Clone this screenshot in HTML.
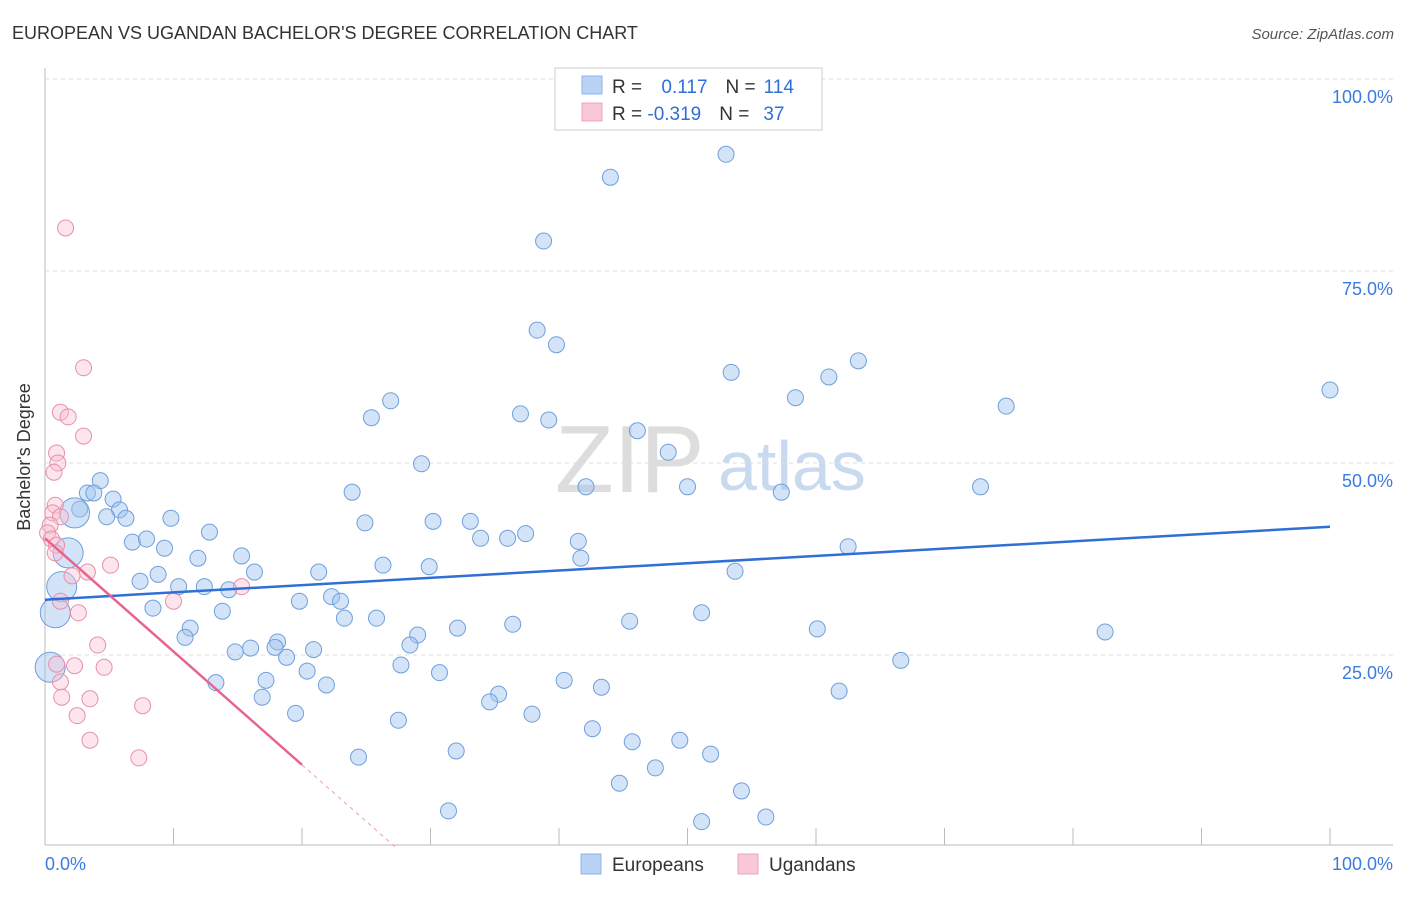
<!DOCTYPE html>
<html><head><meta charset="utf-8"><style>
body{margin:0;background:#fff;font-family:"Liberation Sans",sans-serif}
svg text{font-family:"Liberation Sans",sans-serif}
</style></head><body>
<svg id="c" width="1406" height="892">
<text x="12" y="39" font-size="18" fill="#333">EUROPEAN VS UGANDAN BACHELOR'S DEGREE CORRELATION CHART</text>
<text x="1394" y="39" font-size="15" fill="#555" font-style="italic" text-anchor="end">Source: ZipAtlas.com</text>
<text x="30" y="457" font-size="18" fill="#333" transform="rotate(-90 30 457)" text-anchor="middle">Bachelor's Degree</text>
<text x="555" y="492" font-size="96" fill="#ddd" font-family="Liberation Serif">ZIP</text>
<text x="718" y="490" font-size="70" fill="#c9daf0">atlas</text>
<g id="grid"></g><g id="pts"></g><g id="lines"></g>
<g>
<rect x="555" y="68" width="267" height="62" fill="#fff" stroke="#ccc"/>
<rect x="582" y="76" width="20" height="18" fill="#b9d3f4" stroke="#8fb4e8"/>
<rect x="582" y="103" width="20" height="18" fill="#f9c8d6" stroke="#eea6bd"/>
<text x="612" y="93" font-size="19" fill="#333">R = <tspan fill="#2f6fd6" dx="14">0.117</tspan><tspan dx="18" fill="#333">N =</tspan><tspan dx="8" fill="#2f6fd6">114</tspan></text>
<text x="612" y="120" font-size="19" fill="#333">R = <tspan fill="#2f6fd6">-0.319</tspan><tspan dx="18" fill="#333">N =</tspan><tspan dx="14" fill="#2f6fd6">37</tspan></text>
</g>
<g>
<rect x="581" y="854" width="20" height="20" fill="#b9d3f4" stroke="#8fb4e8"/>
<text x="612" y="871" font-size="19" fill="#333">Europeans</text>
<rect x="738" y="854" width="20" height="20" fill="#f9c8d6" stroke="#eea6bd"/>
<text x="769" y="871" font-size="19" fill="#333">Ugandans</text>
</g>
</svg>
<script>
const yTicks=[25,50,75,100];
const blueX=[53.0,44.0,38.8,38.3,39.8,63.3,53.4,61.0,100,58.4,26.9,74.8,37.0,25.4,39.2,46.1,48.5,29.3,42.1,50.0,72.8,57.3,23.9,4.3,3.3,3.8,5.3,2.7,5.8,2.3,4.8,6.3,9.8,24.9,30.2,33.1,12.8,37.4,33.9,36.0,6.8,7.9,41.5,62.5,9.3,1.8,15.3,11.9,41.7,26.3,29.9,53.7,16.3,21.3,8.8,7.4,10.4,12.4,14.3,1.3,22.3,19.8,23.0,8.4,13.8,51.1,0.8,23.3,25.8,45.5,36.4,32.1,11.3,60.1,82.5,29.0,10.9,18.1,28.4,16.0,17.9,20.9,14.8,18.8,66.6,27.7,20.4,30.7,0.4,40.4,17.2,13.3,21.9,43.3,61.8,35.3,34.6,16.9,37.9,19.5,27.5,42.6,49.4,45.7,32.0,51.8,24.4,47.5,44.7,54.2,31.4,56.1,51.1];
const blueY=[90.2,87.2,78.9,67.3,65.4,63.3,61.8,61.2,59.5,58.5,58.1,57.4,56.4,55.9,55.6,54.2,51.4,49.9,46.9,46.9,46.9,46.2,46.2,47.7,46.1,46.1,45.3,44.0,43.9,43.5,43.0,42.8,42.8,42.2,42.4,42.4,41.0,40.8,40.2,40.2,39.7,40.1,39.8,39.1,38.9,38.3,37.9,37.6,37.6,36.7,36.5,35.9,35.8,35.8,35.5,34.6,33.9,33.9,33.5,33.9,32.6,32.0,32.0,31.1,30.7,30.5,30.5,29.8,29.8,29.4,29.0,28.5,28.5,28.4,28.0,27.6,27.3,26.7,26.3,25.9,26.0,25.7,25.4,24.7,24.3,23.7,22.9,22.7,23.4,21.7,21.7,21.4,21.1,20.8,20.3,19.9,18.9,19.5,17.3,17.4,16.5,15.4,13.9,13.7,12.5,12.1,11.7,10.3,8.3,7.3,4.7,3.9,3.3];
const blueBig=[29,45,59,66,88];
const pinkX=[1.6,3.0,1.2,1.8,3.0,0.9,1.0,0.7,0.8,0.6,1.2,0.4,0.2,0.5,0.9,0.8,5.1,3.3,2.1,15.3,1.2,10.0,2.6,4.1,0.9,2.3,4.6,1.2,1.3,3.5,7.6,2.5,3.5,7.3];
const pinkY=[80.6,62.4,56.6,56.0,53.5,51.3,50.0,48.8,44.5,43.5,43.0,41.9,40.9,40.1,39.3,38.3,36.7,35.8,35.3,33.9,32.0,32.0,30.5,26.3,23.8,23.6,23.4,21.5,19.5,19.3,18.4,17.1,13.9,11.6];
const blueLine=[32.2,41.7];
const pinkLine=[40.2,10.7];
const NS='http://www.w3.org/2000/svg';
const X=v=>45+v*12.85, Y=v=>847-v*7.68;
function mk(tag,at,parent){const e=document.createElementNS(NS,tag);for(const k in at)e.setAttribute(k,at[k]);document.getElementById(parent).appendChild(e);return e;}
let ax=mk('line',{x1:45,y1:845,x2:1393,y2:845,stroke:'#bbb'},'grid');


let ay=mk('line',{x1:45,y1:68,x2:45,y2:845,stroke:'#bbb'},'grid');


for(let i=1;i<=10;i++){const t=mk('line',{x1:X(i*10),y1:828,x2:X(i*10),y2:845,stroke:'#bbb'},'grid');

}
yTicks.forEach(v=>{const g=mk('line',{x1:45,y1:Y(v),x2:1393,y2:Y(v),stroke:'#ddd','stroke-dasharray':'4 4'},'grid');


const t=mk('text',{x:1393,y:Y(v)+24,'font-size':18,fill:'#3a7be0','text-anchor':'end'},'grid');t.textContent=v.toFixed(1)+'%';

});
const x0=mk('text',{x:45,y:870,'font-size':18,fill:'#3a7be0'},'grid');x0.textContent='0.0%';


const x1=mk('text',{x:1393,y:870,'font-size':18,fill:'#3a7be0','text-anchor':'end'},'grid');x1.textContent='100.0%';


blueX.forEach((v,i)=>{const c=mk('circle',{cx:X(v),cy:Y(blueY[i]),r:blueBig.includes(i)?15:8,fill:'rgba(160,195,240,0.45)',stroke:'#6f9fdc','stroke-width':1},'pts');

});
pinkX.forEach((v,i)=>{const c=mk('circle',{cx:X(v),cy:Y(pinkY[i]),r:8,fill:'rgba(248,190,208,0.4)',stroke:'#e890ac','stroke-width':1},'pts');

});
const bl=mk('line',{x1:X(0),y1:Y(blueLine[0]),x2:X(100),y2:Y(blueLine[1]),stroke:'#2f6fd6','stroke-width':2.5},'lines');


const slope=(pinkLine[1]-pinkLine[0])/20;
const pl=mk('line',{x1:X(0),y1:Y(pinkLine[0]),x2:X(20),y2:Y(pinkLine[1]),stroke:'#e8648f','stroke-width':2.5},'lines');


const xe=-pinkLine[0]/slope;
const pd=mk('line',{x1:X(20),y1:Y(pinkLine[1]),x2:X(xe),y2:Y(0),stroke:'#e8a0b8','stroke-width':1,'stroke-dasharray':'4 4'},'lines');


</script>
</body></html>
